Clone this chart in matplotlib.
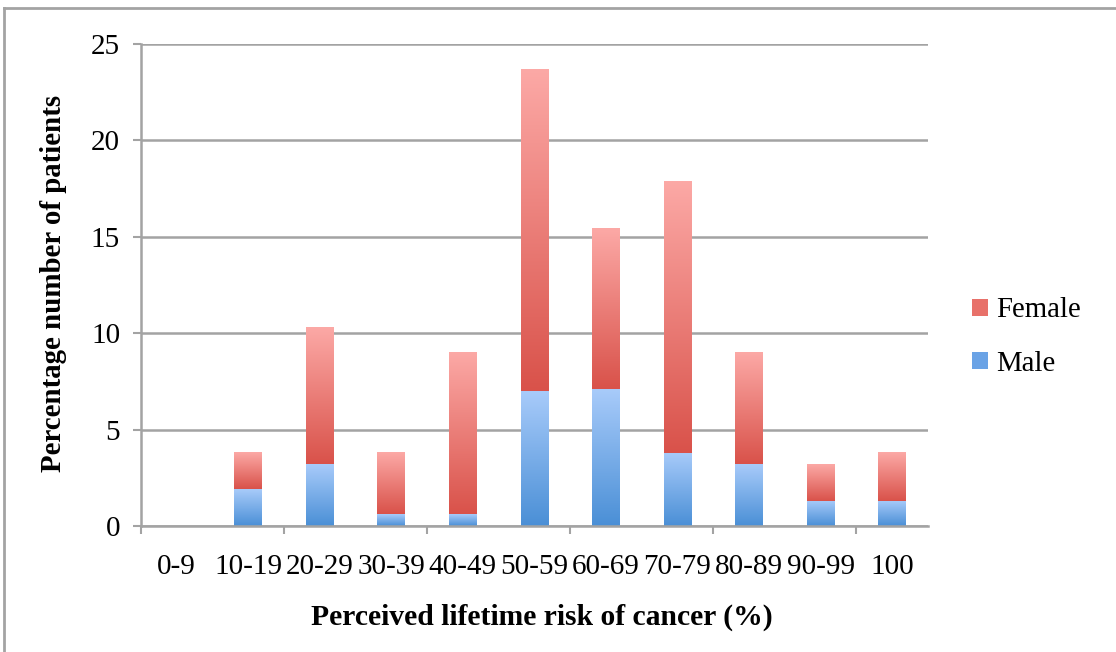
import matplotlib
matplotlib.use("Agg")
import matplotlib.pyplot as plt
import numpy as np
from matplotlib.colors import LinearSegmentedColormap
from matplotlib.lines import Line2D
from matplotlib.patches import Patch

categories = ["0-9", "10-19", "20-29", "30-39", "40-49", "50-59",
              "60-69", "70-79", "80-89", "90-99", "100"]
male = [0.0, 1.9, 3.2, 0.6, 0.6, 7.0, 7.1, 3.8, 3.2, 1.3, 1.3]
female = [0.0, 1.9, 7.1, 3.2, 8.4, 16.7, 8.3, 14.1, 5.8, 1.9, 2.5]

plt.rcParams["font.family"] = ["Liberation Serif", "DejaVu Serif"]

blue_cmap = LinearSegmentedColormap.from_list("blue", ["#4a8fd6", "#a8cbfa"])
red_cmap = LinearSegmentedColormap.from_list("red", ["#d9524a", "#fca9a6"])
grey = "#a3a3a3"

fig = plt.figure(figsize=(11.16, 6.52), dpi=100)
ax = fig.add_axes([0.1263, 0.1933, 0.7052, 0.7392])

x = np.arange(len(categories))
width = 0.39
male_bars = ax.bar(x, male, width, color="none", zorder=2)
female_bars = ax.bar(x, female, width, bottom=male, color="none", zorder=2)

grad = np.linspace(0, 1, 256).reshape(-1, 1)


def fill_gradient(bars, cmap):
    for b in bars:
        if b.get_height() <= 0:
            continue
        x0, y0 = b.get_x(), b.get_y()
        ax.imshow(grad, cmap=cmap, origin="lower", aspect="auto",
                  extent=[x0, x0 + b.get_width(), y0, y0 + b.get_height()],
                  zorder=2, interpolation="bilinear")


fill_gradient(male_bars, blue_cmap)
fill_gradient(female_bars, red_cmap)

ax.set_xlim(-0.5, len(categories) - 0.5)
ax.set_ylim(0, 25)
ax.set_yticks(range(0, 26, 5))
ax.yaxis.grid(True, color=grey, lw=1.8, zorder=0)
ax.set_axisbelow(True)

ax.set_xticks(np.arange(-0.5, len(categories), 2))
ax.set_xticklabels([])
ax.set_xticks(x, minor=True)
ax.set_xticklabels(categories, minor=True)
ax.tick_params(axis="x", which="major", length=6, width=1.5, color=grey)
ax.tick_params(axis="x", which="minor", length=0, pad=20, labelsize=21)
ax.tick_params(axis="y", length=6, width=1.5, color=grey, pad=9, labelsize=21)

for side in ["top", "right"]:
    ax.spines[side].set_visible(False)
for side in ["left", "bottom"]:
    ax.spines[side].set_color(grey)
    ax.spines[side].set_linewidth(1.8)

ax.set_xlabel("Perceived lifetime risk of cancer (%)", fontsize=21.3, fontweight="bold")
ax.set_ylabel("Percentage number of patients", fontsize=20.8, fontweight="bold")
ax.xaxis.set_label_coords(0.5095, -0.162)
ax.yaxis.set_label_coords(-0.094, 0.503)

handles = [Patch(facecolor="#e8716a", edgecolor="none"),
           Patch(facecolor="#6aa3e6", edgecolor="none")]
fig.legend(handles, ["Female", "Male"], loc="center left",
           bbox_to_anchor=(0.858, 0.483), frameon=False, fontsize=20.7,
           handlelength=0.55, handleheight=0.55, handletextpad=0.3,
           labelspacing=0.95, borderpad=0)

# outer frame of the original screenshot
fig.add_artist(Line2D([0.004, 1.0], [0.988, 0.988], color=grey, lw=2))
fig.add_artist(Line2D([0.004, 0.004], [0.0, 0.988], color=grey, lw=2))

fig.savefig("out.png", dpi=100)
